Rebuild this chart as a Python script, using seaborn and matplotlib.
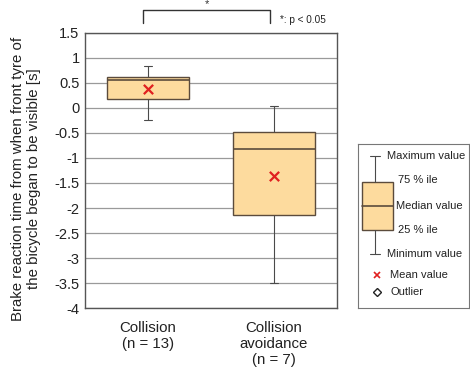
import numpy as np
import pandas as pd
import matplotlib
matplotlib.use("Agg")
import matplotlib.pyplot as plt
import seaborn as sns
from matplotlib.patches import Rectangle
from matplotlib.lines import Line2D

#%% Data

groups = ["Collision\n(n = 13)", "Collision\navoidance\n(n = 7)"]
min_vals = [-0.24, -3.50]
q1_vals = [0.17, -2.13]
median_vals = [0.55, -0.83]
q3_vals = [0.61, -0.49]
max_vals = [0.83, 0.03]
mean_vals = [0.37, -1.36]

yticks = [1.5, 1, 0.5, 0, -0.5, -1, -1.5, -2, -2.5, -3, -3.5, -4]
ylabel = "Brake reaction time from when front tyre of\nthe bicycle began to be visible [s]"

# five-number summaries as a long table -> quartiles come out exactly
rows = []
for g, a, b, c, d, e in zip(groups, min_vals, q1_vals, median_vals, q3_vals, max_vals):
    for v in (a, b, c, d, e):
        rows.append({"group": g, "value": v})
df = pd.DataFrame(rows)
df_mean = pd.DataFrame({"group": groups, "mean": mean_vals})

#%% Style

sns.set_theme(style="white")
plt.rcParams["font.family"] = ["Liberation Sans", "DejaVu Sans"]

box_fill = "#FDDB9E"
box_edge = "#5B4B3C"
line_col = "#4a4a4a"

fig = plt.figure(figsize=(4.7, 3.69), dpi=100)
ax = fig.add_axes([0.181, 0.165, 0.536, 0.746])

sns.boxplot(data=df, x="group", y="value", ax=ax, whis=np.inf, width=0.65,
            color=box_fill, linewidth=1.0, linecolor=box_edge,
            whiskerprops=dict(color=line_col, linewidth=0.8),
            capprops=dict(color=line_col, linewidth=0.8),
            medianprops=dict(color=box_edge, linewidth=1.2),
            boxprops=dict(edgecolor=box_edge, facecolor=box_fill, linewidth=1.0),
            zorder=3)
# short caps like the original
for ln in ax.lines:
    x = ln.get_xdata()
    if len(x) == 2 and x[0] != x[1] and abs(x[1] - x[0]) < 0.4:
        mid = (x[0] + x[1]) / 2
        ln.set_xdata([mid - 0.03, mid + 0.03])

sns.scatterplot(data=df_mean, x="group", y="mean", ax=ax, marker="x",
                color="#E02020", s=45, linewidth=1.6, zorder=5, legend=False)

ax.set_ylim(-4, 1.5)
ax.set_xlim(-0.5, 1.5)
ax.set_yticks(yticks)
ax.set_yticklabels([f"{t:g}" for t in yticks], fontsize=10.5, color="#222222")
ax.set_xticks([0, 1])
ax.set_xticklabels(groups, fontsize=10.8, color="#222222")
ax.set_xticks([0.5], minor=True)
ax.tick_params(axis="x", which="minor", length=3, width=0.8, color="#555555", direction="in")
ax.tick_params(axis="x", which="major", length=0, pad=9)
ax.tick_params(axis="y", length=0, pad=4)
ax.set_xlabel("")
ax.set_ylabel(ylabel, fontsize=10.8, color="#222222", labelpad=5)
ax.yaxis.set_label_coords(-0.175, 0.47)
ax.grid(axis="y", color="#9a9a9a", linewidth=0.9)
ax.set_axisbelow(True)
for s in ax.spines.values():
    s.set_color("#555555")
    s.set_linewidth(1.0)

# significance bracket
trans = ax.get_xaxis_transform()
ax.plot([-0.04, -0.04, 0.97, 0.97], [1.036, 1.084, 1.084, 1.036], transform=trans,
        color="#333333", linewidth=1.0, clip_on=False)
ax.text(0.47, 1.088, "*", transform=trans, ha="center", va="bottom", fontsize=8, color="#333333")
ax.text(1.05, 1.045, "*: p < 0.05", transform=trans, ha="left", va="center",
        fontsize=7.2, color="#222222")

#%% Legend panel

lg = fig.add_axes([0.762, 0.165, 0.236, 0.444])
lg.set_xlim(0, 111)
lg.set_ylim(164, 0)
lg.set_xticks([])
lg.set_yticks([])
for s in lg.spines.values():
    s.set_color("#777777")
    s.set_linewidth(0.8)

wx = 17
lg.add_line(Line2D([wx, wx], [12, 38], color=line_col, lw=0.8))
lg.add_line(Line2D([wx, wx], [86, 110], color=line_col, lw=0.8))
lg.add_line(Line2D([wx - 5, wx + 5], [12, 12], color=line_col, lw=0.8))
lg.add_line(Line2D([wx - 5, wx + 5], [110, 110], color=line_col, lw=0.8))
lg.add_patch(Rectangle((4, 38), 31, 48, facecolor=box_fill, edgecolor=box_edge, lw=1.0))
lg.add_line(Line2D([4, 35], [62, 62], color=box_edge, lw=1.2))

fs = 8
lg.text(29, 12, "Maximum value", va="center", fontsize=fs, color="#222222")
lg.text(40, 36, "75 % ile", va="center", fontsize=fs, color="#222222")
lg.text(38, 62, "Median value", va="center", fontsize=fs, color="#222222")
lg.text(40, 86, "25 % ile", va="center", fontsize=fs, color="#222222")
lg.text(29, 110, "Minimum value", va="center", fontsize=fs, color="#222222")
lg.plot([19], [131], marker="x", color="#E02020", ms=4, mew=1.2, linestyle="none")
lg.text(32, 131, "Mean value", va="center", fontsize=fs, color="#222222")
lg.plot([19], [148], marker="D", mfc="white", mec="#222222", ms=4, mew=1.0, linestyle="none")
lg.text(32, 148, "Outlier", va="center", fontsize=fs, color="#222222")

fig.savefig("out.png", dpi=100)
